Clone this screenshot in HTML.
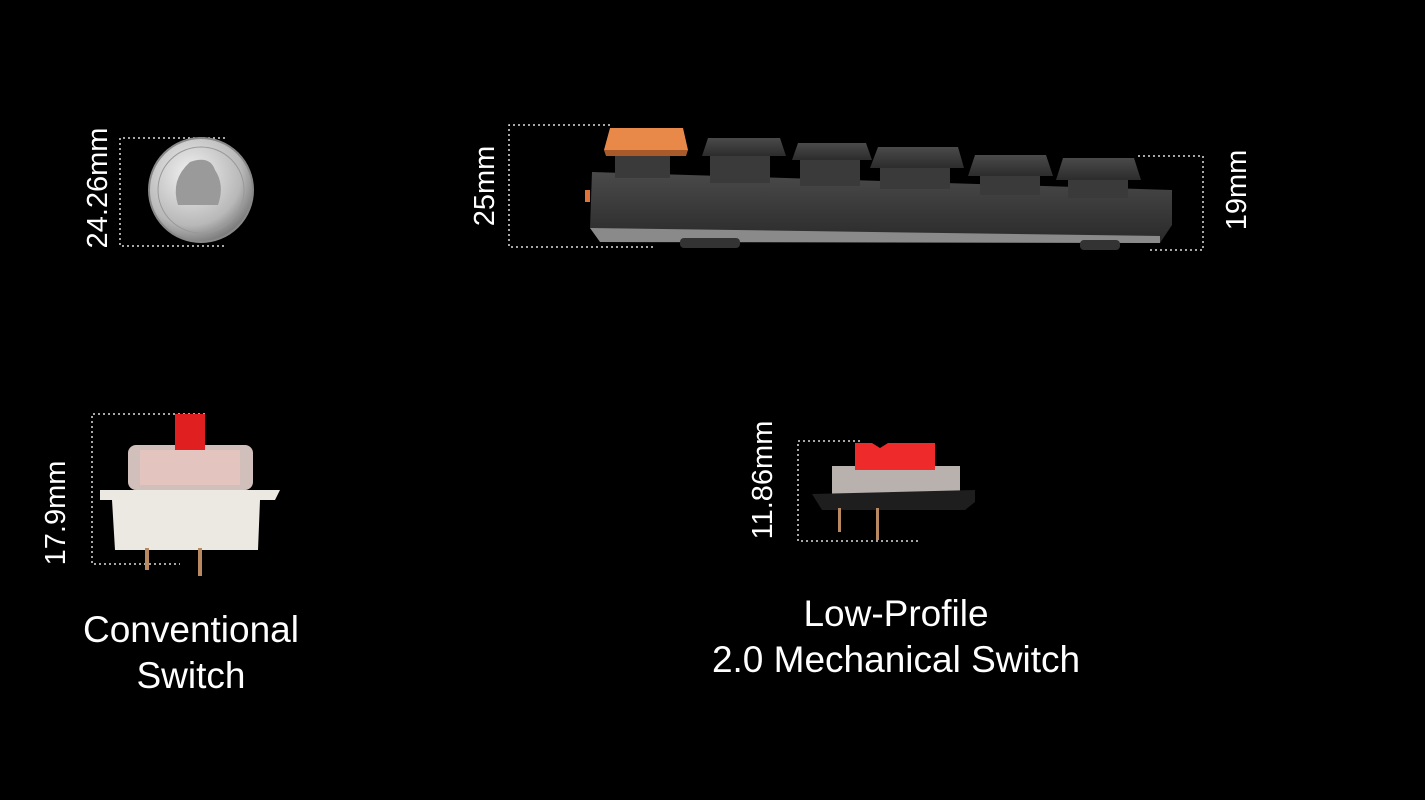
<!DOCTYPE html>
<html><head><meta charset="utf-8"><style>
html,body{margin:0;padding:0;background:#000;}
body{width:1425px;height:800px;overflow:hidden;position:relative;font-family:"Liberation Sans",sans-serif;color:#fff;}
svg{position:absolute;left:0;top:0;}
</style></head><body>
<svg width="1425" height="800" viewBox="0 0 1425 800">
<defs>
<radialGradient id="coin" cx="40%" cy="35%" r="70%"><stop offset="0" stop-color="#f2f2f2"/><stop offset="0.7" stop-color="#b8b8b8"/><stop offset="1" stop-color="#707070"/></radialGradient>
<linearGradient id="kb" x1="0" y1="0" x2="0" y2="1"><stop offset="0" stop-color="#4a4a4a"/><stop offset="1" stop-color="#2a2a2a"/></linearGradient>
<linearGradient id="key" x1="0" y1="0" x2="0" y2="1"><stop offset="0" stop-color="#4a4a4a"/><stop offset="1" stop-color="#2c2c2c"/></linearGradient>
</defs>
<g fill="none" stroke="#ddd" stroke-width="1.5" stroke-dasharray="2,3">
<path d="M225 138H120V246H225"/>
<path d="M610 125H509V247H655"/>
<path d="M1138 156H1203V250H1150"/>
<path d="M205 414H92V564H180"/>
<path d="M860 441H798V541H918"/>
</g>
<circle cx="201" cy="190" r="52" fill="url(#coin)" stroke="#888" stroke-width="2"/>
<circle cx="201" cy="190" r="43" fill="none" stroke="#999" stroke-width="1"/>
<path d="M178 205 Q170 180 190 162 Q210 155 215 170 Q225 185 218 205 Z" fill="#9a9a9a"/>
<polygon points="592,172 1172,190 1172,225 1160,243 600,240 590,228" fill="url(#kb)"/>
<polygon points="590,228 1160,236 1160,243 600,242" fill="#8a8a8a"/>
<rect x="680" y="238" width="60" height="10" rx="4" fill="#333"/>
<rect x="1080" y="240" width="40" height="10" rx="4" fill="#333"/>
<rect x="585" y="190" width="5" height="12" fill="#e0733a"/>
<g fill="#3a3a3a">
<rect x="615" y="148" width="55" height="30"/>
<rect x="710" y="155" width="60" height="28"/>
<rect x="800" y="160" width="60" height="26"/>
<rect x="880" y="165" width="70" height="24"/>
<rect x="980" y="173" width="60" height="22"/>
<rect x="1068" y="176" width="60" height="22"/>
</g>
<path d="M604 150 L610 128 H683 L688 150 Z" fill="#e8894a"/>
<path d="M604 150 L688 150 L686 156 H606 Z" fill="#a85a2a"/>
<g fill="url(#key)">
<path d="M702 156 L708 138 H780 L786 156 Z"/>
<path d="M792 160 L798 143 H866 L872 160 Z"/>
<path d="M870 168 L878 147 H958 L964 168 Z"/>
<path d="M968 176 L975 155 H1046 L1053 176 Z"/>
<path d="M1056 180 L1063 158 H1134 L1141 180 Z"/>
</g>
<rect x="128" y="445" width="125" height="45" rx="8" fill="#e8d4d0" opacity="0.9"/>
<rect x="140" y="450" width="100" height="35" fill="#f0c8c0" opacity="0.6"/>
<rect x="175" y="414" width="30" height="36" fill="#e02020"/>
<polygon points="100,490 280,490 275,500 260,500 258,550 115,550 112,500 100,500" fill="#ece8e2"/>
<rect x="145" y="548" width="4" height="22" fill="#b88860"/>
<rect x="198" y="548" width="4" height="28" fill="#b88860"/>
<rect x="832" y="466" width="128" height="28" fill="#d8d0cc" opacity="0.85"/>
<path d="M855 470 V443 H872 L880 448 L888 443 H935 V470 Z" fill="#ef2a2a"/>
<polygon points="812,494 975,490 975,502 965,510 822,510" fill="#1e1e1e"/>
<rect x="838" y="508" width="3" height="24" fill="#b88860"/>
<rect x="876" y="508" width="3" height="32" fill="#b88860"/>
<g fill="#fff" font-family="Liberation Sans, sans-serif" font-size="29" text-anchor="middle">
<text transform="translate(107,188) rotate(-90)">24.26mm</text>
<text transform="translate(494,186) rotate(-90)">25mm</text>
<text transform="translate(1246,190) rotate(-90)">19mm</text>
<text transform="translate(65,513) rotate(-90)">17.9mm</text>
<text transform="translate(772,480) rotate(-90)">11.86mm</text>
</g>
<g fill="#fff" font-family="Liberation Sans, sans-serif" font-size="37" text-anchor="middle">
<text x="191" y="642">Conventional</text>
<text x="191" y="688">Switch</text>
<text x="896" y="626">Low-Profile</text>
<text x="896" y="672">2.0 Mechanical Switch</text>
</g>
</svg>
</body></html>
